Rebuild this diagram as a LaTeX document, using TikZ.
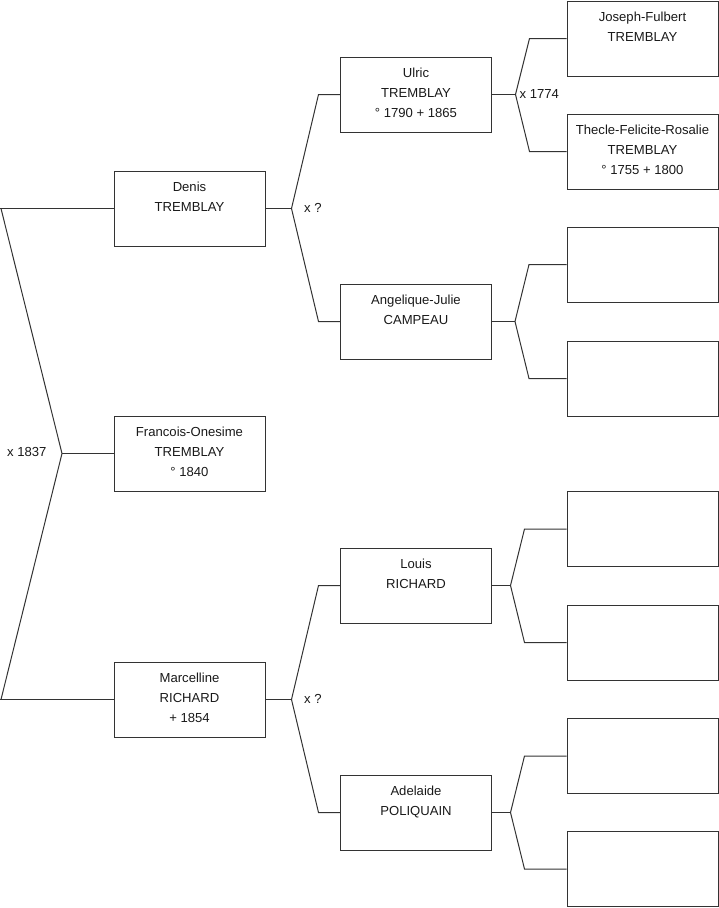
\documentclass[tikz,border=0pt]{standalone}
\usepackage{fontspec}
\setmainfont{Liberation Sans}
\begin{document}
\begin{tikzpicture}[x=1pt,y=-1pt,
  pbox/.style={draw=black!80,line width=1pt,rectangle,inner sep=0pt,minimum width=151pt,minimum height=75pt},
  txt/.style={anchor=north,inner sep=0pt,align=center,font=\fontsize{13.1}{20}\selectfont,text=black!90},
  lbl/.style={anchor=west,inner sep=0pt,font=\fontsize{13.1}{20}\selectfont,text=black!90},
  conn/.style={draw=black!80,line width=1pt}]
\useasboundingbox (0,0) rectangle (719,908);
% boxes
\node[pbox] (denis) at (189.5,208.5) {};
\node[pbox] (francois) at (189.5,453.5) {};
\node[pbox] (marcelline) at (189.5,699.5) {};
\node[pbox] (ulric) at (416,94.5) {};
\node[pbox] (angelique) at (416,321.5) {};
\node[pbox] (louis) at (416,585.5) {};
\node[pbox] (adelaide) at (416,812.5) {};
\node[pbox] (joseph) at (642.5,38.5) {};
\node[pbox] (thecle) at (642.5,151.5) {};
\node[pbox] (e1) at (642.5,264.5) {};
\node[pbox] (e2) at (642.5,378.5) {};
\node[pbox] (e3) at (642.5,529) {};
\node[pbox] (e4) at (642.5,642.5) {};
\node[pbox] (e5) at (642.5,756) {};
\node[pbox] (e6) at (642.5,869) {};
% texts
\node[txt] (tdenis) at ([yshift=-11.2pt]denis.north) {Denis\\TREMBLAY};
\node[txt] (tfrancois) at ([yshift=-11.2pt]francois.north) {Francois-Onesime\\TREMBLAY\\° 1840};
\node[txt] (tmarcelline) at ([yshift=-11.2pt]marcelline.north) {Marcelline\\RICHARD\\+ 1854};
\node[txt] (tulric) at ([yshift=-11.2pt]ulric.north) {Ulric\\TREMBLAY\\° 1790 + 1865};
\node[txt] (tangelique) at ([yshift=-11.2pt]angelique.north) {Angelique-Julie\\CAMPEAU};
\node[txt] (tlouis) at ([yshift=-11.2pt]louis.north) {Louis\\RICHARD};
\node[txt] (tadelaide) at ([yshift=-11.2pt]adelaide.north) {Adelaide\\POLIQUAIN};
\node[txt] (tjoseph) at ([yshift=-11.2pt]joseph.north) {Joseph-Fulbert\\TREMBLAY};
\node[txt] (tthecle) at ([yshift=-11.2pt]thecle.north) {Thecle-Felicite-Rosalie\\TREMBLAY\\° 1755 + 1800};
% junction points
\coordinate (j0) at (62,453.5);
\coordinate (j0a) at (1,208.5);
\coordinate (j0b) at (1,699.5);
\coordinate (j1) at (291.5,208.5);
\coordinate (j1a) at (318.5,94.5);
\coordinate (j1b) at (318.5,321.5);
\coordinate (j2) at (291.5,699.5);
\coordinate (j2a) at (318.5,585.5);
\coordinate (j2b) at (318.5,812.5);
\coordinate (j3) at (515.5,94.5);
\coordinate (j3a) at (529.5,38.5);
\coordinate (j3b) at (529.5,151.5);
\coordinate (j4) at (515,321.5);
\coordinate (j4a) at (529,264.5);
\coordinate (j4b) at (529,378.5);
\coordinate (j5) at (510.5,585.5);
\coordinate (j5a) at (524.5,529);
\coordinate (j5b) at (524.5,642.5);
\coordinate (j6) at (510.5,812.5);
\coordinate (j6a) at (524.5,756);
\coordinate (j6b) at (524.5,869);
% connectors
\draw[conn] (denis.west) -- (0,208.5);
\draw[conn] (marcelline.west) -- (0,699.5);
\draw[conn] (j0a) -- (j0) -- (j0b);
\draw[conn] (j0) -- (francois.west);
\draw[conn] (denis.east) -- (j1);
\draw[conn] (ulric.west) -- (j1a) -- (j1) -- (j1b) -- (angelique.west);
\draw[conn] (marcelline.east) -- (j2);
\draw[conn] (louis.west) -- (j2a) -- (j2) -- (j2b) -- (adelaide.west);
\draw[conn] (ulric.east) -- (j3);
\draw[conn] (joseph.west) -- (j3a) -- (j3) -- (j3b) -- (thecle.west);
\draw[conn] (angelique.east) -- (j4);
\draw[conn] (e1.west) -- (j4a) -- (j4) -- (j4b) -- (e2.west);
\draw[conn] (louis.east) -- (j5);
\draw[conn] (e3.west) -- (j5a) -- (j5) -- (j5b) -- (e4.west);
\draw[conn] (adelaide.east) -- (j6);
\draw[conn] (e5.west) -- (j6a) -- (j6) -- (j6b) -- (e6.west);
% marriage labels
\node[lbl] (m0) at (7,452) {x 1837};
\node[lbl] (m1) at (304,208) {x ?};
\node[lbl] (m2) at (304,699) {x ?};
\node[lbl] (m3) at (519.5,94) {x 1774};
\end{tikzpicture}
\end{document}
